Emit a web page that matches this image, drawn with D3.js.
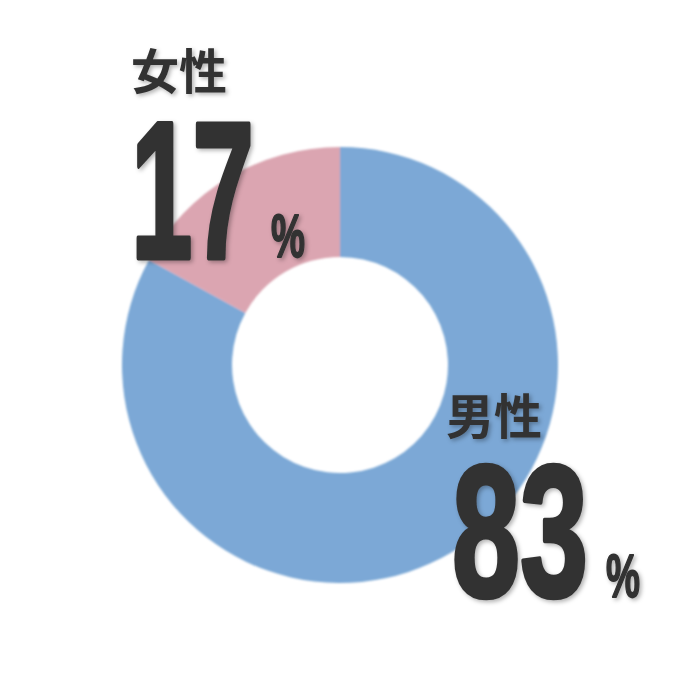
<!DOCTYPE html>
<html>
<head>
<meta charset="utf-8">
<script src="https://cdn.jsdelivr.net/npm/d3@7"></script>
<style>
  html, body { margin: 0; padding: 0; background: #fff; }
</style>
</head>
<body>
<div class="container"></div>
<script>
// data
const labels = ['男性', '女性'];
const values = [83, 17];
const colors = ['#7ba8d6', '#dba5b1'];

const width = 680;
const height = 680;

const svg = d3.select('.container').append('svg').attr('width', width).attr('height', height);

const defs = svg.append('defs');
defs.append('filter').attr('id', 'soft')
    .append('feGaussianBlur').attr('stdDeviation', 0.8);
defs.append('filter').attr('id', 'shadow')
    .attr('x', '-20%').attr('y', '-20%').attr('width', '140%').attr('height', '140%')
    .append('feDropShadow')
    .attr('dx', 2).attr('dy', 2).attr('stdDeviation', 2)
    .attr('flood-color', '#000').attr('flood-opacity', 0.3);

const pie = d3.pie().sort(null).value(d => d);
const arc = d3.arc().innerRadius(108).outerRadius(218);

const g = svg.append('g').attr('transform', 'translate(340,365)').attr('filter', 'url(#soft)');

g.selectAll('path').data(pie(values)).enter().append('path')
    .attr('d', arc)
    .attr('fill', (d, i) => colors[i]);

// label placement for each slice
const labelPos = [
    { nameX: 446, nameY: 434, numX: 452, numY: 596, numSize: 188, numW: 136, pctX: 606, pctY: 597 },
    { nameX: 131, nameY: 89, numX: 131, numY: 258, numSize: 195, numW: 123, pctX: 271, pctY: 257 }
];

const t = svg.append('g').attr('fill', '#333').attr('filter', 'url(#shadow)');

// condensed text: draw at natural width, then squeeze with a transform
function narrowText(x, y, size, w, strokeW, str)
{
    const holder = t.append('g');
    const txt = holder.append('text')
        .attr('font-family', '"Liberation Sans", Arial, sans-serif')
        .attr('font-weight', 700)
        .attr('font-size', size)
        .attr('stroke', '#333')
        .attr('stroke-width', strokeW)
        .attr('stroke-linejoin', 'round')
        .attr('vector-effect', 'non-scaling-stroke')
        .text(str);
    const natural = txt.node().getComputedTextLength();
    holder.attr('transform', `translate(${x},${y}) scale(${w / natural},1)`);
}

labels.forEach((name, i) => {
    const p = labelPos[i];
    t.append('text')
        .attr('x', p.nameX).attr('y', p.nameY)
        .attr('font-family', '"Noto Sans CJK JP", sans-serif')
        .attr('font-weight', 700)
        .attr('font-size', 48)
        .text(name);

    narrowText(p.numX, p.numY, p.numSize, p.numW, 4, String(values[i]));
    narrowText(p.pctX, p.pctY, 62, 34, 1.5, '%');
});
</script>
</body>
</html>
